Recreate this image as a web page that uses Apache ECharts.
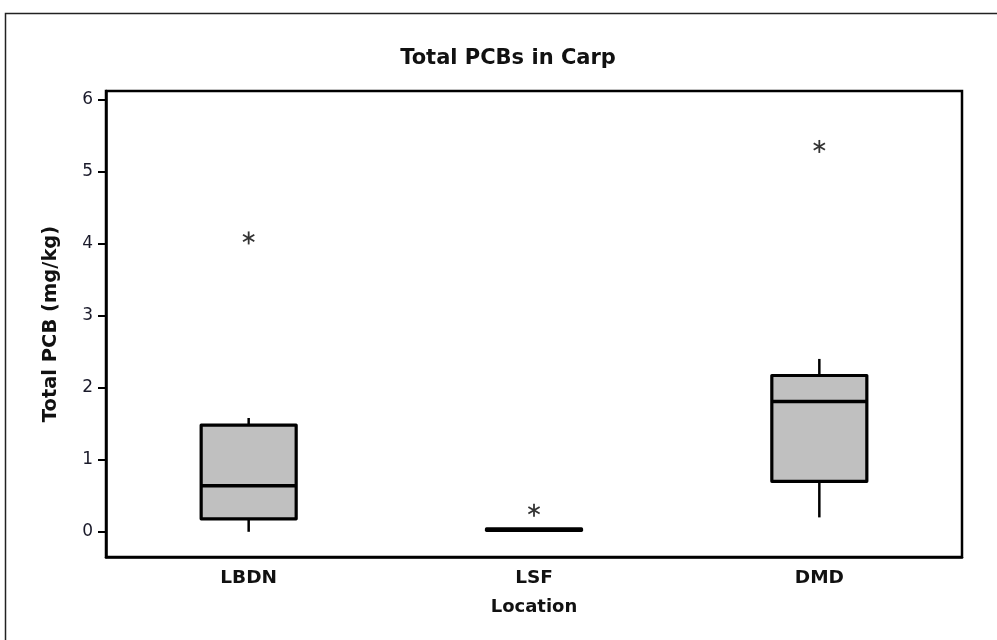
<!DOCTYPE html>
<html><head><meta charset="utf-8">
<script src="https://cdn.jsdelivr.net/npm/echarts@6/dist/echarts.min.js"></script>
<style>html,body{margin:0;padding:0;background:#fff}#c{width:997px;height:640px}</style>
</head><body><div id="c"></div>
<script>
// ---- data ----
const categories = ['LBDN', 'LSF', 'DMD'];
const whiskerLow = [0.00, 0.00, 0.20];
const q1 = [0.18, 0.02, 0.70];
const median = [0.64, 0.03, 1.81];
const q3 = [1.48, 0.04, 2.17];
const whiskerHigh = [1.58, 0.05, 2.40];
const outlierCategory = ['LBDN', 'LSF', 'DMD'];
const outlierValue = [4.08, 0.30, 5.35];
const yTicks = [0, 1, 2, 3, 4, 5, 6];

const boxData = categories.map((c, i) => [i, whiskerLow[i], q1[i], median[i], q3[i], whiskerHigh[i]]);
const outData = outlierCategory.map((c, i) => [categories.indexOf(c), outlierValue[i]]);

const chart = echarts.init(document.getElementById('c'), null, {renderer: 'canvas'});
const option = {
  backgroundColor: '#fff',
  animation: false,
  title: {
    text: 'Total PCBs in Carp',
    left: 508, top: 48, textAlign: 'center', padding: 0,
    textStyle: {fontFamily: 'DejaVu Sans', fontWeight: 'bold', fontSize: 21, color: '#111'}
  },
  graphic: [{
    type: 'rect', left: 3, top: 11, silent: true,
    shape: {x: 0, y: 0, width: 1010, height: 660},
    style: {fill: 'none', stroke: '#222', lineWidth: 1.5}
  }],
  grid: {left: 106, right: 35, top: 91, bottom: 83, show: true, borderColor: '#000', borderWidth: 2.5, backgroundColor: 'transparent'},
  xAxis: {
    type: 'category', data: categories, boundaryGap: true,
    axisLine: {onZero: false, lineStyle: {color: '#000', width: 2.5}},
    axisTick: {alignWithLabel: true, length: 6, lineStyle: {color: '#000', width: 2}},
    axisLabel: {margin: 12, color: '#111', fontFamily: 'DejaVu Sans', fontWeight: 'bold', fontSize: 18.5},
    name: 'Location', nameLocation: 'middle', nameGap: 41,
    nameTextStyle: {color: '#111', fontFamily: 'DejaVu Sans', fontWeight: 'bold', fontSize: 18},
    splitLine: {show: false}
  },
  yAxis: {
    type: 'value', min: -0.35, max: 6.12,
    axisLine: {show: true, onZero: false, lineStyle: {color: '#000', width: 2.5}},
    axisTick: {show: true, length: 8, customValues: yTicks, lineStyle: {color: '#000', width: 2}},
    axisLabel: {customValues: yTicks, margin: 13, color: '#1a1a2a', fontFamily: 'DejaVu Sans', fontSize: 17},
    name: 'Total PCB (mg/kg)', nameLocation: 'middle', nameGap: 45, nameRotate: 90,
    nameTextStyle: {color: '#111', fontFamily: 'DejaVu Sans', fontWeight: 'bold', fontSize: 19.5},
    splitLine: {show: false}
  },
  series: [{
    type: 'custom',
    data: boxData,
    encode: {x: 0, y: [1, 2, 3, 4, 5]},
    renderItem: function (params, api) {
      const x = api.value(0);
      const pLow = api.coord([x, api.value(1)]);
      const pQ1 = api.coord([x, api.value(2)]);
      const pMed = api.coord([x, api.value(3)]);
      const pQ3 = api.coord([x, api.value(4)]);
      const pHigh = api.coord([x, api.value(5)]);
      const half = api.size([1, 0])[0] * 0.333 / 2;
      const cx = pMed[0];
      return {type: 'group', children: [
        {type: 'line', shape: {x1: cx, y1: pHigh[1], x2: cx, y2: pQ3[1]}, style: {stroke: '#000', lineWidth: 2.5}},
        {type: 'line', shape: {x1: cx, y1: pQ1[1], x2: cx, y2: pLow[1]}, style: {stroke: '#000', lineWidth: 2.5}},
        {type: 'rect', shape: {x: cx - half, y: pQ3[1], width: 2 * half, height: pQ1[1] - pQ3[1]},
          style: {fill: '#c0c0c0', stroke: '#000', lineWidth: 3.2, lineJoin: 'round'}},
        {type: 'line', shape: {x1: cx - half, y1: pMed[1], x2: cx + half, y2: pMed[1]}, style: {stroke: '#000', lineWidth: 3.5}}
      ]};
    }
  }, {
    type: 'custom',
    data: outData,
    encode: {x: 0, y: 1},
    renderItem: function (params, api) {
      const p = api.coord([api.value(0), api.value(1)]);
      const r = 6.5;
      const st = {stroke: '#333', lineWidth: 1.8};
      const arms = [90, 30, -30];
      return {type: 'group', children: arms.map(function (a) {
        const rad = a * Math.PI / 180;
        const dx = Math.cos(rad) * r, dy = Math.sin(rad) * r;
        return {type: 'line', shape: {x1: p[0] - dx, y1: p[1] - dy, x2: p[0] + dx, y2: p[1] + dy}, style: st};
      })};
    }
  }]
};
chart.setOption(option);
</script>
</body></html>
